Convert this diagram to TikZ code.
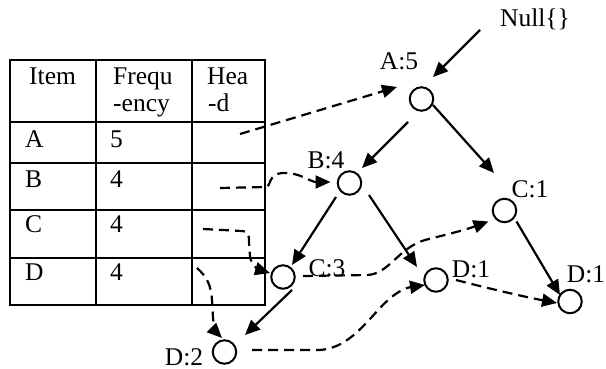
\documentclass[tikz,border=0pt]{standalone}
\usepackage{fontspec}
\setmainfont{Liberation Serif}
\usetikzlibrary{arrows.meta}
\begin{document}
\begin{tikzpicture}[x=1pt,y=-1pt,
  every node/.style={inner sep=0pt, font=\fontsize{25.5}{28}\selectfont},
  tnode/.style={circle, draw, line width=2pt, minimum size=23.5pt},
  lbl/.style={anchor=base},
  cell/.style={anchor=base west},
  grid/.style={line width=2pt},
  edge/.style={line width=2.2pt, -{Triangle[length=15pt,width=13pt]}},
  link/.style={edge, dash pattern=on 10pt off 6pt},
]
\useasboundingbox (0,0) rectangle (606,369);

% header table
\draw[grid] (10,60) rectangle (265,305);
\foreach \y in {122,163,210,258} \draw[grid] (10,\y) -- (265,\y);
\foreach \x in {95.5,192} \draw[grid] (\x,60) -- (\x,305);

\node[cell] (tItem) at (29,85) {Item};
\node[cell] (tFreqA) at (113,85) {Frequ};
\node[cell] (tFreqB) at (113,112) {-ency};
\node[cell] (tHeadA) at (207,85) {Hea};
\node[cell] (tHeadB) at (208,112) {-d};
\node[cell] (tA) at (25,148) {A};
\node[cell] (fA) at (110,148) {5};
\node[cell] (tB) at (25,187) {B};
\node[cell] (fB) at (110,187) {4};
\node[cell] (tC) at (25,233) {C};
\node[cell] (fC) at (110,233) {4};
\node[cell] (tD) at (25,280) {D};
\node[cell] (fD) at (110,280) {4};

% head pointers leaving the table
\coordinate (h1) at (240,134);
\coordinate (h2) at (220,188);
\coordinate (h3) at (203,229);
\coordinate (h4) at (197,268);
\coordinate (nul) at (480,30);

% tree nodes
\node[tnode] (A)   at (421.5,99)  {};
\node[tnode] (B)   at (349.5,183) {};
\node[tnode] (C1)  at (504.5,210.5) {};
\node[tnode] (C3)  at (283,277)   {};
\node[tnode] (D1m) at (436,280)   {};
\node[tnode] (D1r) at (570,301.5) {};
\node[tnode] (D2)  at (224.5,352) {};

% node labels
\node[lbl] (lnull) at (535,27)  {Null\{\}};
\node[lbl] (lA)    at (399,70)  {A:5};
\node[lbl] (lB)    at (326,168) {B:4};
\node[lbl] (lC1)   at (530,197) {C:1};
\node[lbl] (lC3)   at (327,276) {C:3};
\node[lbl] (lD1m)  at (471,277) {D:1};
\node[lbl] (lD1r)  at (586,282) {D:1};
\node[lbl] (lD2)   at (184,365) {D:2};

% tree edges
\draw[edge] (nul) -- ([shift={(11.5,-22)}]A.center);
\draw[edge] ([shift={(-13.5,23)}]A.center) -- ([shift={(12.5,-15)}]B.center);
\draw[edge] ([shift={(11.5,6)}]A.center) -- ([shift={(-10.5,-37.5)}]C1.center);
\draw[edge] ([shift={(-13.5,14)}]B.center) -- ([shift={(9,-12)}]C3.center);
\draw[edge] ([shift={(19.5,12)}]B.center) -- ([shift={(-19,-13)}]D1m.center);
\draw[edge] ([shift={(9,13)}]C3.center) -- ([shift={(20.5,-17)}]D2.center);
\draw[edge] ([shift={(12,11)}]C1.center) -- ([shift={(-10,-6.5)}]D1r.center);

% node links
\draw[link] (h1) -- ([shift={(-24.5,-12)}]A.center);
\draw[link] (h2) -- (266,187) .. controls (271,187) and (268,174) .. (282,173)
  .. controls (300,172) and (310,182) .. ([shift={(-19,-1)}]B.center);
\draw[link] (h3) -- (242,231) .. controls (248,231) and (249,234) .. (249,242)
  -- (250,256) .. controls (251,266) and (260,270) .. ([shift={(-13,-4)}]C3.center);
\draw[link] (h4) .. controls (207,277) and (211,285) .. (212,300) -- (213,318)
  .. controls (214,328) and (218,334) .. ([shift={(-2.5,-14)}]D2.center);
\draw[link] ([shift={(20,-1)}]C3.center) -- (368,275) .. controls (390,273) and (398,248) .. (425,240)
  .. controls (445,235) and (465,230) .. ([shift={(-16,11)}]C1.center);
\draw[link] ([shift={(27.5,-2)}]D2.center) -- (320,350) .. controls (345,348) and (360,330) .. (380,308)
  .. controls (395,292) and (405,288) .. ([shift={(-11,5)}]D1m.center);
\draw[link] ([shift={(20,0)}]D1m.center) .. controls (475,285) and (520,296) .. ([shift={(-13,1.5)}]D1r.center);
\end{tikzpicture}
\end{document}
